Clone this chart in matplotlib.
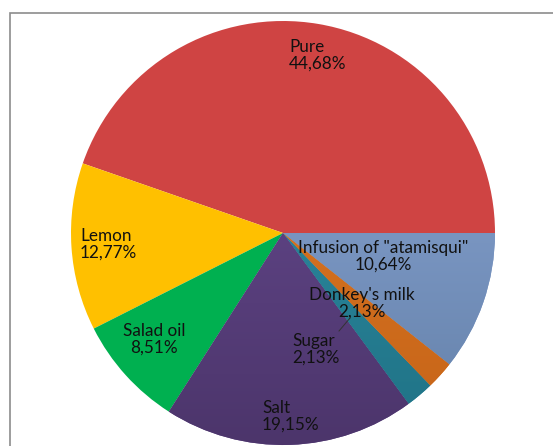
import matplotlib
matplotlib.use("Agg")
import matplotlib.pyplot as plt
import matplotlib.colors as mc
import numpy as np
from matplotlib.patches import Rectangle

categories = ["Pure", "Lemon", "Salad oil", "Salt", "Sugar", "Donkey's milk", 'Infusion of "atamisqui"']
values = [44.68, 12.77, 8.51, 19.15, 2.13, 2.13, 10.64]
colors = ["#CF4443", "#FFC000", "#00B050", "#5E4485", "#2A8399", "#D5711F", "#7E9AC8"]
grad = {3: ("#6A4D95", "#4C356B"), 6: ("#8FAADA", "#6380A8"),
        4: ("#3394AC", "#1F7285"), 5: ("#E07C27", "#C66418")}

W, H = 553, 446
fig = plt.figure(figsize=(W / 100, H / 100), dpi=100)
ax = fig.add_axes([0, 0, 1, 1])

cx, cy, r = 283, H - 233, 212
wedges, _ = ax.pie(values, colors=colors, startangle=0, counterclock=True,
                   center=(cx, cy), radius=r, frame=True,
                   wedgeprops=dict(linewidth=0))

for i, (c1, c2) in grad.items():
    w = wedges[i]
    g = np.linspace(0, 1, 256)[:, None]
    cmap = mc.LinearSegmentedColormap.from_list(f"g{i}", [c1, c2])
    im = ax.imshow(g, cmap=cmap, extent=(cx - r, cx + r, cy - r, cy + r),
                   aspect="auto", origin="upper", zorder=3,
                   interpolation="bilinear")
    im.set_clip_path(w.get_path(), w.get_transform())

ax.set_xlim(0, W)
ax.set_ylim(0, H)
ax.set_aspect("auto")
ax.axis("off")

ax.add_patch(Rectangle((9.5, -5), W, H - 12.5 + 5, fill=False,
                       edgecolor="#8C8C8C", linewidth=1.2, zorder=5))

fs = 12.3
fam = ["Lato", "DejaVu Sans"]
def lab(x, y, txt, ha):
    ax.text(x, H - y, txt, ha=ha, va="center", fontsize=fs, family=fam,
            color="#111111", linespacing=1.05, zorder=6)

pct = [f"{v:.2f}%".replace(".", ",") for v in values]
lab(289, 55, f"{categories[0]}\n{pct[0]}", "left")
lab(80, 244, f"{categories[1]}\n{pct[1]}", "left")
lab(154, 339, f"{categories[2]}\n{pct[2]}", "center")
lab(262, 416, f"{categories[3]}\n{pct[3]}", "left")
lab(292, 349, f"{categories[4]}\n{pct[4]}", "left")
lab(362, 303, f"{categories[5]}\n{pct[5]}", "center")
lab(383, 256, f"{categories[6]}\n{pct[6]}", "center")
ax.plot([350, 339], [H - 318, H - 331], color="#333333", lw=0.7, zorder=6)

fig.savefig("out.png", dpi=100)
